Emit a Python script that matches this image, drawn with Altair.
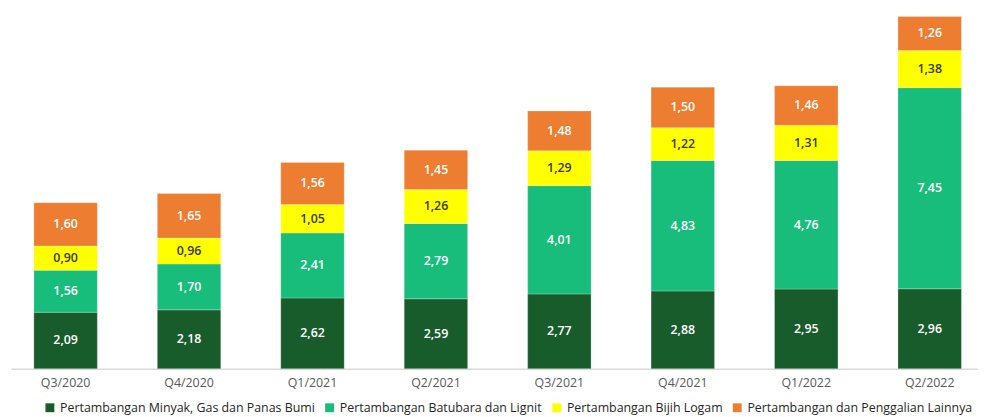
import altair as alt
import pandas as pd

quarters = ["Q3/2020", "Q4/2020", "Q1/2021", "Q2/2021", "Q3/2021", "Q4/2021", "Q1/2022", "Q2/2022"]
series = [
    "Pertambangan Minyak, Gas dan Panas Bumi",
    "Pertambangan Batubara dan Lignit",
    "Pertambangan Bijih Logam",
    "Pertambangan dan Penggalian Lainnya",
]
minyak = [2.09, 2.18, 2.62, 2.59, 2.77, 2.88, 2.95, 2.96]
batubara = [1.56, 1.70, 2.41, 2.79, 4.01, 4.83, 4.76, 7.45]
bijih = [0.90, 0.96, 1.05, 1.26, 1.29, 1.22, 1.31, 1.38]
lainnya = [1.60, 1.65, 1.56, 1.45, 1.48, 1.50, 1.46, 1.26]
colors = ["#185c2b", "#19bd7b", "#ffff00", "#ed7d31"]
label_colors = ["#ffffff", "#ffffff", "#3a3a2a", "#ffffff"]

rows = []
for si, (name, vals) in enumerate(zip(series, [minyak, batubara, bijih, lainnya])):
    for q, v in zip(quarters, vals):
        rows.append({"quarter": q, "series": name, "value": v, "order": si,
                     "label": f"{v:.2f}".replace(".", ","), "lc": label_colors[si]})
df = pd.DataFrame(rows)

FONT = "Open Sans"

base = alt.Chart(df).transform_stack(
    stack="value", groupby=["quarter"], as_=["y0", "y1"],
    sort=[alt.SortField("order", order="ascending")],
).transform_calculate(mid="(datum.y0 + datum.y1) / 2")

x = alt.X("quarter:N", sort=quarters, title=None,
          scale=alt.Scale(paddingInner=0.486, paddingOuter=0.16, align=0.58),
          axis=alt.Axis(labelAngle=0, ticks=False, domainColor="#d9d9d9", domainWidth=1.5,
                        labelColor="#595959", labelFont=FONT, labelFontSize=12.5,
                        labelPadding=8))
yscale = alt.Scale(domain=[0, 13.3], nice=False, zero=True)

bars = base.mark_bar(stroke="#ffffff", strokeWidth=0.4, strokeOpacity=0.6).encode(
    x=x,
    y=alt.Y("y0:Q", scale=yscale, axis=None),
    y2="y1:Q",
    color=alt.Color("series:N", sort=series,
                    scale=alt.Scale(domain=series, range=colors),
                    legend=alt.Legend(title=None, orient="none", direction="horizontal",
                                      legendX=33, legendY=395, symbolType="square",
                                      symbolSize=80, symbolStrokeWidth=0,
                                      labelFont=FONT, labelFontSize=12.5, labelColor="#262626",
                                      columnPadding=8, labelOffset=4, labelLimit=400)),
)

texts = base.mark_text(font=FONT, fontSize=12.5, fontWeight=600).encode(
    x=alt.X("quarter:N", sort=quarters),
    y=alt.Y("mid:Q", scale=yscale),
    text="label:N",
    color=alt.Color("lc:N", scale=None),
)

chart = alt.layer(bars, texts).properties(
    width=975, height=362,
    autosize=alt.AutoSizeParams(type="none"),
    padding={"left": 3, "top": 0, "right": 0, "bottom": 47},
).configure_view(stroke=None)

chart.save("out.html", embed_options={"renderer": "svg", "actions": False})
